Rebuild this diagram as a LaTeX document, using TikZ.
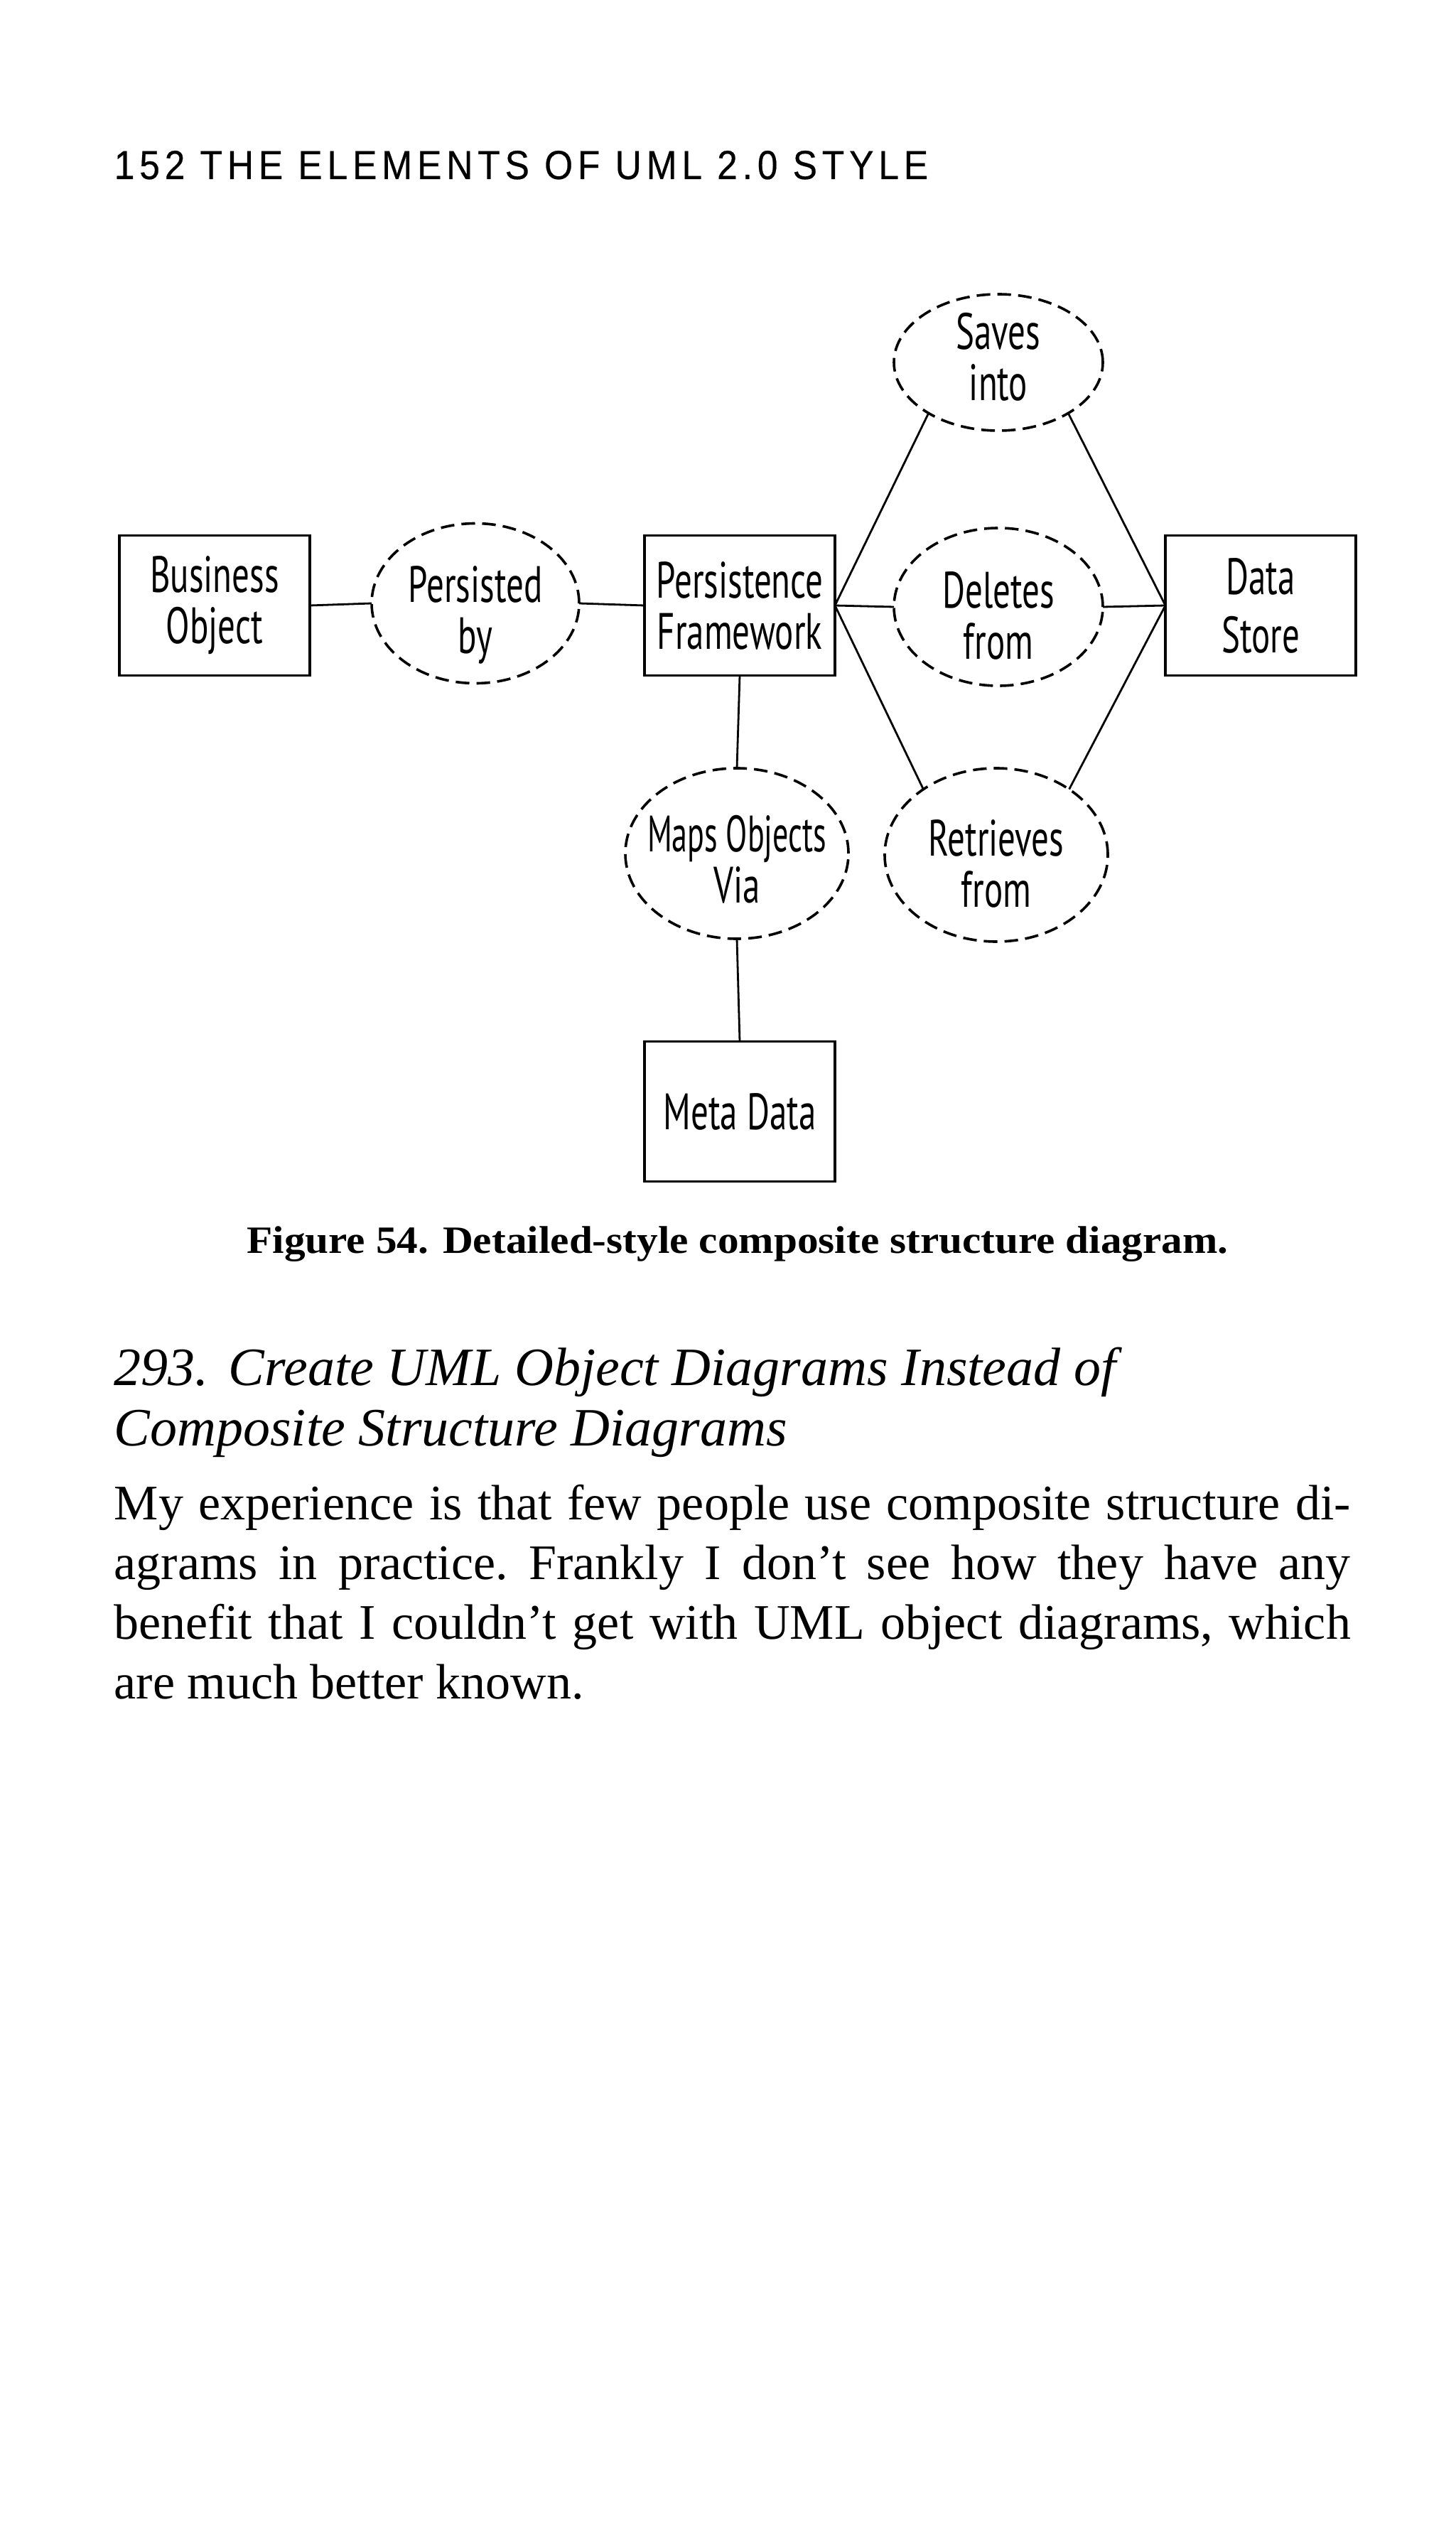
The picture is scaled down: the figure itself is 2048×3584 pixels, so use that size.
\documentclass[tikz,border=0pt]{standalone}
\usepackage{fontspec}
\setmainfont{Liberation Serif}
\newfontfamily\capfont[FakeStretch=1.09]{Liberation Serif}
\newfontfamily\handfont[FakeStretch=0.68]{PT Sans}
\newfontfamily\headfont[FakeStretch=0.9,LetterSpace=12,FakeBold=0.4]{Liberation Sans}
\usetikzlibrary{shapes.geometric}
\frenchspacing
\begin{document}
\begin{tikzpicture}[x=0.25pt,y=-0.25pt,
  objbox/.style={draw, line width=0.95pt, minimum width=67pt, minimum height=49.25pt,
    inner sep=0pt, outer sep=0pt, font=\handfont\fontsize{18}{18}\selectfont, align=center},
  role/.style={draw, ellipse, dash pattern=on 4.8pt off 2.5pt, line width=0.9pt,
    inner sep=0pt, outer sep=0pt},
  rolelbl/.style={font=\handfont\fontsize{18}{18}\selectfont, align=center, inner sep=0pt},
  link/.style={line width=0.7pt}]
\useasboundingbox[fill=white] (0,0) rectangle (2048,3584);

% header
\node[anchor=base west, inner sep=0pt, font=\headfont\fontsize{14.3}{16}\selectfont] (hdr) at (160,252)
  {152 THE ELEMENTS OF UML 2.0 STYLE};

% boxes
\node[objbox] (bo) at (302,852) {Business\\Object};
\node[objbox] (pf) at (1041,852) {Persistence\\Framework};
\node[objbox, font=\handfont\fontsize{18}{20.5}\selectfont] (ds) at (1774,852) {Data\\Store};
\node[objbox] (md) at (1041,1564) {Meta Data};

% roles
\node[role, minimum width=73pt, minimum height=56.25pt] (pers) at (669,849) {};
\node[role, minimum width=73.5pt, minimum height=48pt] (saves) at (1405,510) {};
\node[role, minimum width=73.5pt, minimum height=55.5pt] (del) at (1405,854) {};
\node[role, minimum width=78.5pt, minimum height=60pt] (maps) at (1037,1201) {};
\node[role, minimum width=78.5pt, minimum height=61pt] (retr) at (1402,1203) {};

\node[rolelbl] (persT) at ([yshift=-4pt]pers.center) {Persisted\\by};
\node[rolelbl] (savesT) at ([yshift=2pt]saves.center) {Saves\\into};
\node[rolelbl] (delT) at ([yshift=-3pt]del.center) {Deletes\\from};
\node[rolelbl] (mapsT) at ([yshift=-2pt]maps.center) {\scalebox{0.9}[1]{Maps Objects}\\Via};
\node[rolelbl] (retrT) at ([yshift=-3pt]retr.center) {Retrieves\\from};

% connectors
\draw[link] (bo.east) -- (pers.west);
\draw[link] (pers.east) -- (pf.west);
\draw[link] (pf.east) -- (del.west);
\draw[link] (del.east) -- (ds.west);
\draw[link] (pf.east) -- (saves.216);
\draw[link] (saves.324) -- (ds.west);
\draw[link] (pf.east) -- (retr.138);
\draw[link] (retr.42) -- (ds.west);
\draw[link] (pf.south) -- (maps.north);
\draw[link] (maps.south) -- (md.north);

% caption
\node[anchor=base, inner sep=0pt, font=\capfont\bfseries\fontsize{13.6}{15}\selectfont] (cap) at (1038,1763)
  {Figure 54.\hspace{5pt}Detailed-style composite structure diagram.};

% heading (base anchor = last line)
\node[anchor=base west, inner sep=0pt, align=left, font=\itshape\fontsize{19}{21.25}\selectfont] (head) at (160,2034)
  {293.\hspace{7pt}Create UML Object Diagrams Instead of\\Composite Structure Diagrams};

% body (base anchor = last line)
\node[anchor=base west, inner sep=0pt, align=left, font=\fontsize{17.5}{21}\selectfont] (body) at (160,2390)
  {\makebox[435pt][s]{My experience is that few people use composite structure di-}\\
   \makebox[435pt][s]{agrams in practice. Frankly I don’t see how they have any}\\
   \makebox[435pt][s]{benefit that I couldn’t get with UML object diagrams, which}\\
   are much better known.};
\end{tikzpicture}
\end{document}
